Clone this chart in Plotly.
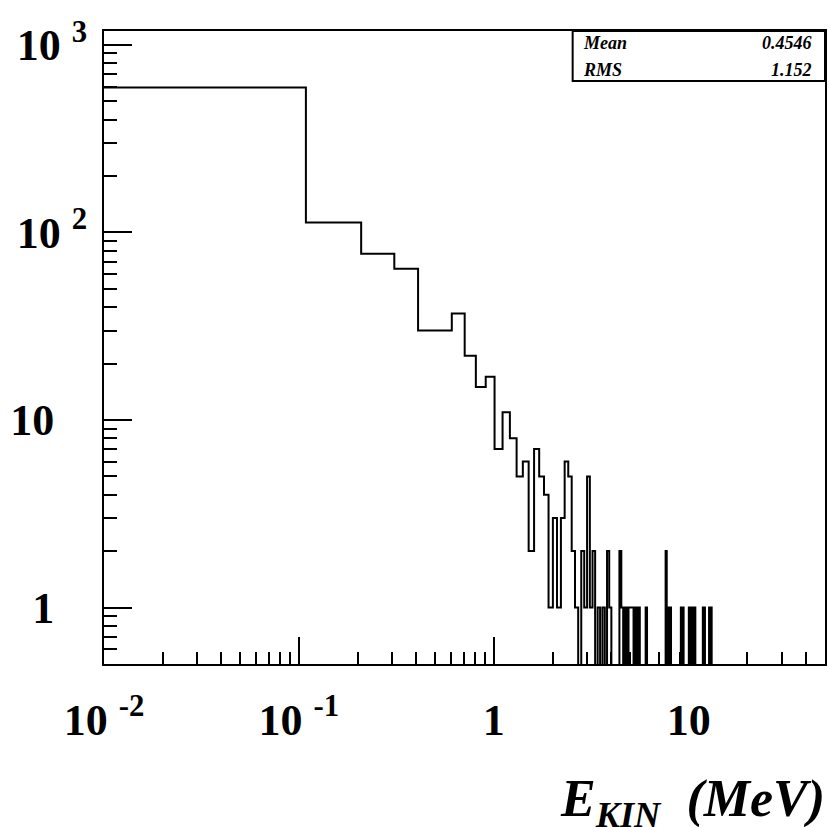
import numpy as np
import plotly.graph_objects as go

# Histograma de energia cinética (bins de 0.1 MeV)
BIN_WIDTH = 0.1
HIST_XMIN = 0.0086
counts = [
    593, 113, 77, 64, 30, 30, 37, 22, 15, 17,   # 0.0 - 1.0
    7, 11, 8, 5, 6, 2, 7, 5, 4, 1,              # 1.0 - 2.0
    3, 1, 3, 6, 5, 2, 1, 0, 2, 1,               # 2.0 - 3.0
    5, 1, 2, 0, 1, 0, 1, 0, 2, 1,               # 3.0 - 4.0
    0, 0, 0, 0, 2, 1, 0, 1, 0, 1,               # 4.0 - 5.0
    1, 1, 0, 1, 0, 1, 0, 0, 0, 0,               # 5.0 - 6.0
    1, 0, 0, 0, 0, 0, 0, 0, 0, 0,               # 6.0 - 7.0
    0, 0, 0, 0, 0, 0, 2, 0, 1, 0,               # 7.0 - 8.0
    1, 0, 0, 0, 0, 0, 0, 0, 0, 0,               # 8.0 - 9.0
    0, 1, 0, 1, 0, 0, 0, 0, 0, 0,               # 9.0 - 10.0
    1, 0, 1, 1, 0, 1, 0, 1, 0, 0,               # 10.0 - 11.0
    0, 0, 0, 0, 0, 0, 0, 0, 1, 0,               # 11.0 - 12.0
    1, 0, 0, 0, 0, 0, 0, 1, 0, 0,               # 12.0 - 13.0
    1, 0,                                       # 13.0 - 13.2
]

stats_labels = ['Mean', 'RMS']
stats_values = ['0.4546', '1.152']

x_major = [0.01, 0.1, 1, 10]
x_major_text = ['10&nbsp;<sup>-2</sup>', '10&nbsp;<sup>-1</sup>', '1', '10']
y_major = [1, 10, 100, 1000]
y_major_text = ['1&nbsp;&nbsp;&nbsp;', '10&nbsp;&nbsp;&nbsp;', '10&nbsp;<sup>2</sup>', '10&nbsp;<sup>3</sup>']

X_MAX = 50
Y_MIN = 0.5
Y_MAX = 2 * max(counts)
FLOOR = 0.3  # bins vazios desenhados abaixo do eixo (cortados)

# Contorno em degraus
edges = HIST_XMIN + BIN_WIDTH * np.arange(len(counts) + 1)
yvals = [c if c > 0 else FLOOR for c in counts]
xs = list(edges[:-1]) + [edges[-1]]
ys = yvals + [FLOOR]

x_minor = [k * 10.0 ** e for e in range(-2, 2) for k in range(2, 10) if k * 10.0 ** e < X_MAX]
y_minor = [k * 10.0 ** e for e in range(-1, 3) for k in range(2, 10) if k * 10.0 ** e > Y_MIN]

fig = go.Figure()
fig.add_trace(go.Scatter(x=xs, y=ys, mode='lines',
                         line=dict(color='black', width=2, shape='hv'),
                         showlegend=False, hoverinfo='skip'))

tick_font = dict(family='Liberation Serif', size=44, color='black', weight='bold')

fig.update_xaxes(
    type='log', range=[-2, np.log10(X_MAX)],
    showline=True, linecolor='black', linewidth=2, mirror=True,
    showgrid=False, zeroline=False,
    ticks='inside', ticklen=27, tickwidth=2, tickcolor='black',
    tickmode='array', tickvals=x_major, ticktext=x_major_text,
    tickfont=tick_font, ticklabelstandoff=16,
    minor=dict(ticks='inside', ticklen=12, tickwidth=2, tickcolor='black',
               tickmode='array', tickvals=x_minor, showgrid=False),
)
fig.update_yaxes(
    type='log', range=[np.log10(Y_MIN), np.log10(Y_MAX)],
    showline=True, linecolor='black', linewidth=2, mirror=True,
    showgrid=False, zeroline=False,
    ticks='inside', ticklen=28, tickwidth=2, tickcolor='black',
    tickmode='array', tickvals=y_major, ticktext=y_major_text,
    tickfont=tick_font, ticklabelstandoff=6,
    minor=dict(ticks='inside', ticklen=13, tickwidth=2, tickcolor='black',
               tickmode='array', tickvals=y_minor, showgrid=False),
)

# Caixa de estatísticas
box_left = 0.65
box_bottom = 0.921
fig.add_shape(type='rect', xref='paper', yref='paper',
              x0=box_left, x1=1.0, y0=box_bottom, y1=1.0,
              line=dict(color='black', width=2), fillcolor='white')
stat_font = dict(family='Liberation Serif', size=18, color='black')
for i, (lab, val) in enumerate(zip(stats_labels, stats_values)):
    yy = 0.981 - i * 0.043
    fig.add_annotation(xref='paper', yref='paper', x=0.662, y=yy,
                       text=f'<b><i>{lab}</i></b>', showarrow=False,
                       xanchor='left', yanchor='middle', font=stat_font)
    fig.add_annotation(xref='paper', yref='paper', x=0.985, y=yy,
                       text=f'<b><i>{val}</i></b>', showarrow=False,
                       xanchor='right', yanchor='middle', font=stat_font)

# Título do eixo x
fig.add_annotation(xref='paper', yref='paper', x=1.003, y=-0.219,
                   text='<b><i>E<sub>KIN</sub>&nbsp;&nbsp;(MeV)</i></b>',
                   showarrow=False, xanchor='right', yanchor='middle',
                   font=dict(family='Liberation Serif', size=52, color='black'))

fig.update_layout(
    width=829, height=827,
    margin=dict(l=104, r=2, t=31, b=163),
    paper_bgcolor='white', plot_bgcolor='white',
)

# sem margem no body, para a figura ocupar a janela inteira
fig.write_html("out.html", config={'displayModeBar': False},
               post_script="document.body.style.margin='0';"
                           "document.body.style.overflow='hidden';")
